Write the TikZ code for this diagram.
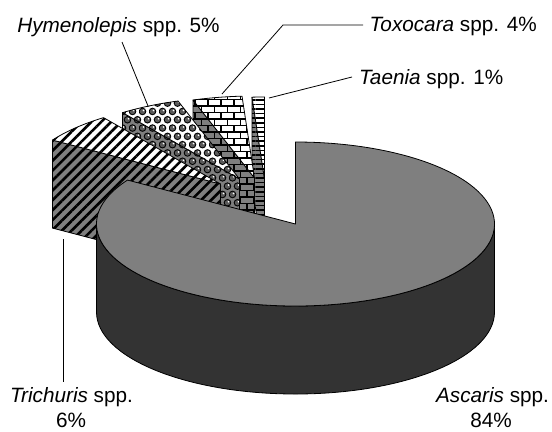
\documentclass[tikz,border=0pt]{standalone}
\usepackage{fontspec}
\setmainfont{Liberation Sans}
\usetikzlibrary{patterns,patterns.meta,calc}

\definecolor{midgrey}{HTML}{7F7F7F}
\definecolor{wallgrey}{HTML}{333333}
\definecolor{spheregrey}{HTML}{5A5A5A}

\pgfdeclarepatternformonly{mybricks}{\pgfqpoint{-1bp}{-1bp}}{\pgfqpoint{14bp}{14bp}}{\pgfqpoint{13bp}{13bp}}{%
  \pgfsetlinewidth{1.3bp}%
  \pgfpathmoveto{\pgfqpoint{-1bp}{0bp}}\pgfpathlineto{\pgfqpoint{14bp}{0bp}}%
  \pgfpathmoveto{\pgfqpoint{-1bp}{6.5bp}}\pgfpathlineto{\pgfqpoint{14bp}{6.5bp}}%
  \pgfpathmoveto{\pgfqpoint{0bp}{0bp}}\pgfpathlineto{\pgfqpoint{0bp}{6.5bp}}%
  \pgfpathmoveto{\pgfqpoint{6.5bp}{6.5bp}}\pgfpathlineto{\pgfqpoint{6.5bp}{13bp}}%
  \pgfusepath{stroke}}

\pgfdeclarepatterninherentlycolored{myspheres}{\pgfqpoint{-1bp}{-1bp}}{\pgfqpoint{11bp}{17.6bp}}{\pgfqpoint{10bp}{16.6bp}}{%
  \pgfsetfillcolor{black}%
  \pgfpathcircle{\pgfqpoint{2.5bp}{4.15bp}}{3.8bp}%
  \pgfpathcircle{\pgfqpoint{7.5bp}{12.45bp}}{3.8bp}%
  \pgfusepath{fill}%
  \pgfsetfillcolor{spheregrey}%
  \pgfpathcircle{\pgfqpoint{2.5bp}{4.15bp}}{2.7bp}%
  \pgfpathcircle{\pgfqpoint{7.5bp}{12.45bp}}{2.7bp}%
  \pgfusepath{fill}%
  \pgfsetfillcolor{white}%
  \pgfpathcircle{\pgfqpoint{3.5bp}{5.2bp}}{0.9bp}%
  \pgfpathcircle{\pgfqpoint{8.5bp}{13.5bp}}{0.9bp}%
  \pgfusepath{fill}}

\def\cx{295.5}
\def\cy{224}
\def\rx{199}
\def\ry{82}
\def\dep{88}

\tikzset{
  face/.style={draw=black, line width=0.8bp, line join=round},
  topface/.style={face, preaction={fill=white}},
  cutface/.style={face, preaction={fill=midgrey}},
  stripes/.style={pattern={Lines[angle=45,distance=7bp,line width=2.6bp]}},
  hlines/.style={pattern={Lines[angle=0,distance=4.6bp,line width=1.5bp]}},
  brickpat/.style={pattern=mybricks},
  spherepat/.style={pattern=myspheres},
  leader/.style={draw=black, line width=0.8bp},
  lbl/.style={inner sep=0pt, font=\fontsize{20.8}{25}\selectfont}
}

% exploded slice: #1 dx, #2 dy, #3 theta1, #4 theta2, #5 pattern style
\newcommand\myslice[5]{%
  \coordinate (T) at ({\cx+#1},{\cy+#2});
  \path[cutface,#5] (T) -- ++({\rx*cos(#4)},{-\ry*sin(#4)}) -- ++(0,\dep)
        -- ++({-\rx*cos(#4)},{\ry*sin(#4)}) -- cycle;
  \path[topface,#5] (T) -- ++({\rx*cos(#3)},{-\ry*sin(#3)})
        arc[start angle={-#3}, end angle={-#4}, x radius=\rx, y radius=\ry] -- cycle;
}

\begin{document}
\begin{tikzpicture}[x=1bp,y=-1bp]
\useasboundingbox (0,0) rectangle (552,431);

% labels
\node[lbl, anchor=base] (hymL) at (118.5,32) {\textit{Hymenolepis} spp. 5\%};
\node[lbl, anchor=base west] (toxL) at (369.5,31) {\textit{Toxocara} spp. 4\%};
\node[lbl, anchor=base west] (taeL) at (359,84) {\textit{Taenia} spp. 1\%};
\node[lbl, anchor=base] (triL1) at (71.5,402) {\textit{Trichuris} spp.};
\node[lbl, anchor=base] (triL2) at (71,427) {6\%};
\node[lbl, anchor=base] (ascL1) at (492.5,402.5) {\textit{Ascaris} spp.};
\node[lbl, anchor=base] (ascL2) at (491,427) {84\%};

% leader lines
\coordinate (hymA) at (122,42);
\coordinate (hymB) at (148,106);
\coordinate (toxA) at (363,25);
\coordinate (toxK) at (283,25);
\coordinate (toxB) at (222,94);
\coordinate (taeA) at (352,77);
\coordinate (taeB) at (269,98);
\coordinate (triA) at (63,239);
\coordinate (triB) at (63,382);
\draw[leader] (hymA) -- (hymB);
\draw[leader] (toxA) -- (toxK) -- (toxB);
\draw[leader] (taeA) -- (taeB);
\draw[leader] (triA) -- (triB);

% exploded slices, back to front
\myslice{-31}{-45}{90}{93.6}{hlines}
\myslice{-41}{-46}{93.6}{108}{brickpat}
\myslice{-56}{-45}{108}{126}{spherepat}
\myslice{-75}{-40}{126}{147.6}{stripes}

% Ascaris slice
\coordinate (C) at (\cx,\cy);
\path[face, fill=wallgrey] ($(C)+(-\rx,0)$)
   arc[start angle=180, end angle=0, x radius=\rx, y radius=\ry] -- ++(0,\dep)
   arc[start angle=0, end angle=180, x radius=\rx, y radius=\ry] -- cycle;
\path[face, fill=midgrey] (C) -- ++({\rx*cos(147.6)},{-\ry*sin(147.6)})
   arc[start angle=-147.6, end angle=-450, x radius=\rx, y radius=\ry] -- cycle;
\end{tikzpicture}
\end{document}
